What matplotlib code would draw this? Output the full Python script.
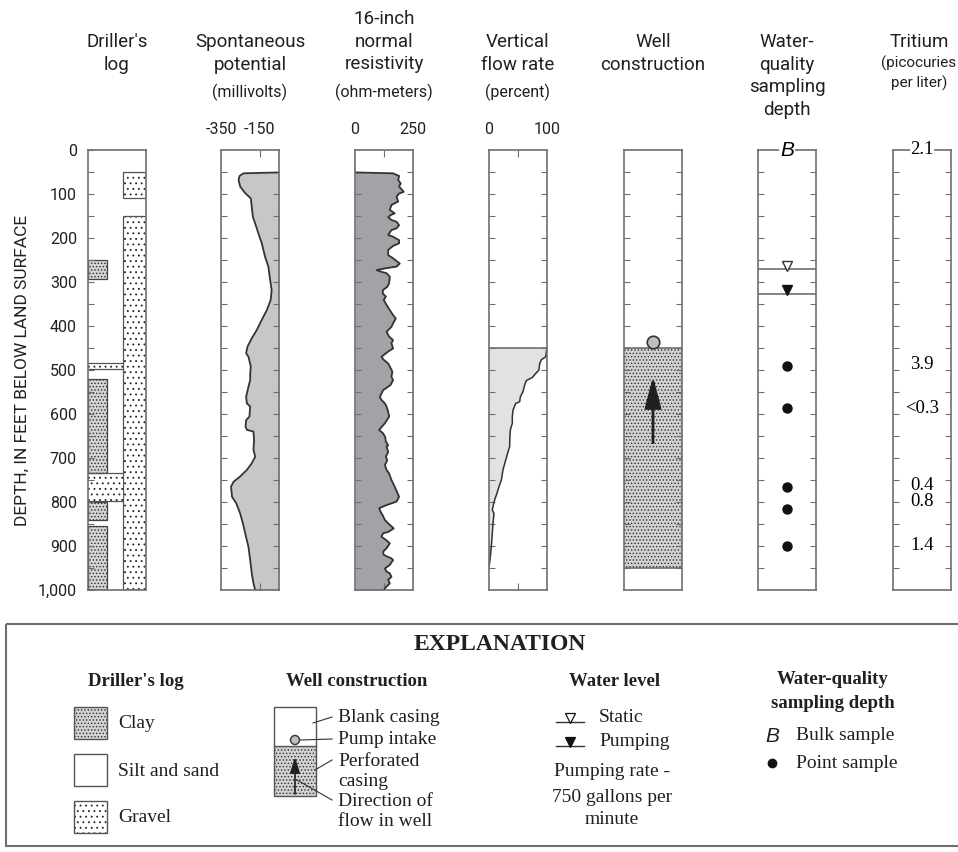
import numpy as np
import matplotlib
matplotlib.use('Agg')
import matplotlib.pyplot as plt
from matplotlib.patches import Rectangle, Circle
from matplotlib.ticker import FuncFormatter

# ---- data (depth in feet below land surface) ----
# driller's log intervals
gravel_side = [(50, 110), (150, 1000)]
gravel_full = [(483, 498), (735, 798)]
clay = [(250, 293), (521, 735), (800, 842), (855, 1000)]

# spontaneous potential, millivolts
sp_depth = [51, 53, 59, 68, 83, 98, 110, 129, 152, 174, 197, 212, 243, 265, 295, 318, 341,
            364, 386, 409, 428, 447, 462, 470, 492, 508, 523, 538, 561, 576, 583, 606, 614,
            629, 636, 640, 659, 682, 697, 712, 727, 742, 754, 765, 788, 803, 826, 848, 871,
            902, 932, 962, 985, 1000]
sp_mv = [-50, -233, -254, -259, -251, -225, -196, -191, -185, -168, -151, -139, -122, -105,
         -96, -88, -93, -113, -139, -165, -191, -213, -220, -208, -196, -199, -199, -208,
         -220, -216, -199, -203, -220, -223, -216, -182, -179, -182, -173, -191, -216, -251,
         -285, -298, -293, -271, -251, -237, -225, -208, -199, -191, -182, -173]

# 16-inch normal resistivity, ohm-meters
res_depth = [51, 53, 59, 68, 76, 83, 95, 99, 106, 117, 125, 136, 144, 148, 153, 159, 163, 171,
             178, 182, 193, 197, 205, 212, 218, 227, 239, 246, 258, 265, 269, 273, 277, 280,
             288, 303, 311, 318, 326, 333, 341, 352, 364, 375, 383, 394, 402, 413, 424, 432,
             439, 451, 458, 470, 477, 485, 492, 504, 515, 523, 534, 546, 561, 568, 576, 583,
             595, 606, 621, 636, 644, 652, 663, 671, 674, 686, 697, 705, 716, 727, 735, 750,
             765, 788, 799, 807, 814, 822, 830, 841, 852, 860, 868, 871, 879, 886, 894, 905,
             913, 920, 924, 928, 932, 943, 951, 958, 962, 970, 977, 985, 992, 1000]
res_ohm = [0, 164, 190, 186, 197, 190, 210, 190, 179, 186, 157, 150, 171, 153, 143, 157, 179,
           190, 179, 157, 143, 164, 190, 190, 164, 143, 143, 164, 193, 179, 129, 93, 114, 136,
           150, 147, 139, 121, 119, 133, 124, 136, 150, 164, 176, 164, 157, 136, 147, 164,
           157, 164, 143, 114, 124, 143, 150, 161, 157, 164, 153, 121, 107, 114, 129, 136,
           143, 147, 129, 104, 121, 130, 133, 143, 136, 143, 133, 139, 129, 136, 147, 157,
           171, 190, 179, 136, 104, 110, 119, 129, 150, 167, 143, 121, 114, 133, 150, 136,
           121, 124, 139, 157, 164, 150, 129, 136, 150, 157, 143, 150, 136, 124]

# vertical flow rate, percent
flow_depth = [450, 458, 470, 477, 486, 500, 508, 517, 524, 534, 549, 561, 572, 576, 591, 606,
              621, 636, 652, 674, 686, 705, 727, 750, 765, 780, 795, 810, 818, 826, 848, 871,
              901, 924, 948]
flow_pct = [100, 99, 97.7, 90, 87.4, 86, 80.5, 74.7, 64.4, 61.5, 58.6, 54, 52.9, 46, 41.4,
            40.2, 40.2, 36.8, 36, 35.6, 32.8, 28.7, 24.1, 21.3, 17.2, 13.8, 9.8, 6.9, 5.7,
            8.6, 6.9, 5.7, 4, 2.3, 0]

# well construction
blank_casing = (0, 450)
perforated = (450, 950)
pump_intake = 436
flow_arrow = (665, 515)

# water levels and sampling
static_level = 271
pumping_level = 327
bulk_depth = 0
point_depths = [490, 587, 765, 815, 900]

# tritium, picocuries per liter
tritium_depths = [0, 488, 588, 763, 798, 900]
tritium_labels = ['2.1', '3.9', '<0.3', '0.4', '0.8', '1.4']

# ---- styling ----
W, H = 958, 852
NARROW = ['Roboto', 'DejaVu Sans']
SERIF = ['Liberation Serif', 'DejaVu Serif']
GRAY = '#6d6e71'
DARK = '#333333'
plt.rcParams['hatch.linewidth'] = 0.6

fig = plt.figure(figsize=(W / 100, H / 100), dpi=100)

# overlay axes in pixel coordinates for headers and explanation
lay = fig.add_axes([0, 0, 1, 1], zorder=-1)
lay.set_xlim(0, W)
lay.set_ylim(H, 0)
lay.axis('off')

col_left = [88, 221, 355, 489, 624, 758, 893]
col_w = 58
top, bot = 150, 590


def column(i, xlim):
    ax = fig.add_axes([col_left[i] / W, 1 - bot / H, col_w / W, (bot - top) / H])
    ax.set_xlim(xlim)
    ax.set_ylim(1000, 0)
    for s in ax.spines.values():
        s.set_color(GRAY)
        s.set_linewidth(1.2)
    ax.set_yticks(np.arange(50, 1000, 50))
    ax.tick_params(axis='y', direction='in', length=4, left=True, right=True,
                   labelleft=False, color=GRAY, width=0.8)
    ax.set_xticks([])
    return ax


def top_scale(ax, labels_at, labels, mid):
    ax.xaxis.remove_overlapping_locs = False
    ax.set_xticks(labels_at)
    ax.set_xticklabels(labels, family=NARROW, fontsize=11.5, color='#231f20')
    ax.tick_params(axis='x', which='major', top=True, labeltop=True, bottom=False,
                   labelbottom=False, length=0, pad=9)
    ax.set_xticks([mid], minor=True)
    ax.tick_params(axis='x', which='minor', direction='in', top=True, bottom=True,
                   length=5, color=GRAY, width=0.8)


clay_style = dict(facecolor='#d2d2d2', edgecolor='#2e2e2e', hatch='.....', linewidth=0)
gravel_style = dict(facecolor='white', edgecolor='#222222', hatch='...', linewidth=0)

# ---- driller's log ----
ax = column(0, (0, 1))
ax.set_yticks(np.arange(0, 1001, 100))
ax.set_yticks(np.arange(50, 1000, 100), minor=True)
ax.tick_params(axis='y', which='both', direction='in', length=4, left=True, right=False,
               color=GRAY, width=0.8)
ax.tick_params(axis='y', which='major', labelleft=True, pad=8, labelsize=11.5,
               labelcolor='#231f20')
ax.yaxis.set_major_formatter(FuncFormatter(lambda v, p: f'{int(v):,}'))
for lab in ax.get_yticklabels():
    lab.set_family(NARROW)
for t0, t1 in gravel_side:
    ax.add_patch(Rectangle((0.6, t0), 0.4, t1 - t0, **gravel_style))
    ax.add_patch(Rectangle((0.6, t0), 0.4, t1 - t0, fill=False, edgecolor='#555555', lw=0.9))
for t0, t1 in gravel_full:
    ax.add_patch(Rectangle((0, t0), 0.61, t1 - t0, **gravel_style))
    ax.hlines([t0, t1], 0, 0.6, color='#555555', lw=0.9)
for t0, t1 in clay:
    ax.add_patch(Rectangle((0, t0), 0.33, t1 - t0, **clay_style))
    ax.add_patch(Rectangle((0, t0), 0.33, t1 - t0, fill=False, edgecolor='#444444', lw=0.9))
ax.set_ylabel('DEPTH, IN FEET BELOW LAND SURFACE', family=NARROW, fontsize=12.5,
              labelpad=6, color='#231f20')

# ---- spontaneous potential ----
ax = column(1, (-350, -50))
top_scale(ax, [-350, -150], ['-350', '-150'], -150)
ax.fill_betweenx(sp_depth, sp_mv, -50, color='#c6c7c9', lw=0)
ax.plot(sp_mv, sp_depth, color=DARK, lw=1.3)

# ---- resistivity ----
ax = column(2, (0, 250))
top_scale(ax, [0, 250], ['0', '250'], 125)
ax.fill_betweenx(res_depth, 0, res_ohm, color='#a2a3a6', lw=0)
ax.plot(res_ohm, res_depth, color=DARK, lw=1.3)

# ---- vertical flow rate ----
ax = column(3, (0, 100))
top_scale(ax, [0, 100], ['0', '100'], 50)
ax.fill_betweenx(flow_depth, 0, flow_pct, color='#e1e2e4', lw=0)
ax.plot(flow_pct, flow_depth, color=DARK, lw=1.1)
ax.axhline(flow_depth[0], color=GRAY, lw=1.2)

# ---- well construction ----
ax = column(4, (0, 1))
ax.add_patch(Rectangle((0, perforated[0]), 1, perforated[1] - perforated[0], **clay_style))
ax.axhline(perforated[0], color=GRAY, lw=1.2)
ax.axhline(perforated[1], color=GRAY, lw=1.2)
ax.plot([0.5], [pump_intake], 'o', ms=9, mfc='#bcbec0', mec=DARK, mew=1.2, clip_on=False,
        zorder=5)
ax.annotate('', xy=(0.5, flow_arrow[1]), xytext=(0.5, flow_arrow[0]),
            arrowprops=dict(arrowstyle='-|>,head_length=0.95,head_width=0.25',
                            mutation_scale=20, lw=2, color='#231f20', shrinkA=0, shrinkB=0))

# ---- water-quality sampling depth ----
ax = column(5, (0, 1))
ax.axhline(static_level, color=GRAY, lw=1.2)
ax.axhline(pumping_level, color=GRAY, lw=1.2)
ax.plot([0.5], [static_level - 8], 'v', ms=7, mfc='white', mec=DARK, mew=1)
ax.plot([0.5], [pumping_level - 8], 'v', ms=7, color='#111111')
ax.plot([0.5] * len(point_depths), point_depths, 'o', ms=6.5, color='#111111', ls='none')
ax.text(0.5, bulk_depth + 2, 'B', ha='center', va='center', fontsize=15, style='italic',
        family=['Liberation Sans', 'DejaVu Sans'],
        bbox=dict(facecolor='white', edgecolor='none', pad=0.5), clip_on=False)

# ---- tritium ----
ax = column(6, (0, 1))
for d, lab in zip(tritium_depths, tritium_labels):
    kw = dict(bbox=dict(facecolor='white', edgecolor='none', pad=0.3)) if d == 0 else {}
    ax.text(0.5, d, lab, ha='center', va='center', fontsize=13.5, family=SERIF,
            clip_on=False, **kw)

# ---- column headers ----
headers = [
    (["Driller's", "log"], [], 42, []),
    (["Spontaneous", "potential"], ["(millivolts)"], 42, [92]),
    (["16-inch", "normal", "resistivity"], ["(ohm-meters)"], 19, [92]),
    (["Vertical", "flow rate"], ["(percent)"], 42, [92]),
    (["Well", "construction"], [], 42, []),
    (["Water-", "quality", "sampling", "depth"], [], 42, []),
    (["Tritium"], ["(picocuries", "per liter)"], 42, [63, 83]),
]
for i, (main, sub, y0, ysub) in enumerate(headers):
    cx = col_left[i] + col_w / 2
    if i == 6:
        cx -= 3
    for k, line in enumerate(main):
        lay.text(cx, y0 + k * 22.7, line, ha='center', va='center', fontsize=13.5,
                 family=NARROW, color='#231f20')
    for line, y in zip(sub, ysub):
        lay.text(cx, y, line, ha='center', va='center', fontsize=11.5 if i < 6 else 11,
                 family=NARROW, color='#231f20')

# ---- explanation ----
lay.add_patch(Rectangle((6, 624), 980, 222, fill=False, edgecolor=GRAY, lw=1.5,
                        clip_on=False))
lay.text(500, 645, 'EXPLANATION', ha='center', va='center', fontsize=17, weight='bold',
         family=SERIF, color='#231f20')
sty = dict(va='center', fontsize=14, family=SERIF, color='#231f20')
hsty = dict(ha='center', va='center', fontsize=13.5, family=SERIF, weight='bold',
            color='#231f20')
lay.text(136, 682, "Driller's log", **hsty)
lay.text(357, 682, 'Well construction', **hsty)
lay.text(615, 681, 'Water level', **hsty)
lay.text(833, 680, 'Water-quality', **hsty)
lay.text(833, 703, 'sampling depth', **hsty)

# driller's log swatches
for y, name, st in [(707, 'Clay', clay_style), (754, 'Silt and sand', None),
                    (801, 'Gravel', gravel_style)]:
    if st is not None:
        lay.add_patch(Rectangle((74, y), 33, 32, **st))
    lay.add_patch(Rectangle((74, y), 33, 32, fill=False, edgecolor='#555555', lw=1))
    lay.text(118, y + 17, name, ha='left', **sty)

# well construction icon
lay.add_patch(Rectangle((274, 746), 42, 50, **clay_style))
lay.add_patch(Rectangle((274, 707), 42, 89, fill=False, edgecolor='#555555', lw=1))
lay.plot([274, 316], [746, 746], color='#555555', lw=1)
lay.annotate('', xy=(295, 757), xytext=(295, 794),
             arrowprops=dict(arrowstyle='-|>,head_length=0.8,head_width=0.25',
                             mutation_scale=12, lw=1.2, color='#231f20', shrinkA=0,
                             shrinkB=0))
lay.add_patch(Circle((295, 740), 4.5, facecolor='#bcbec0', edgecolor='#333333', lw=1,
                     zorder=4))
for x0, y0, y1 in [(313, 723, 717), (300, 740, 739), (315, 770, 760), (297, 780, 800)]:
    lay.plot([x0, 332], [y0, y1], color='#333333', lw=0.8)
for y, t in [(717, 'Blank casing'), (739, 'Pump intake'), (762, 'Perforated'),
             (782, 'casing'), (802, 'Direction of'), (822, 'flow in well')]:
    lay.text(338, y, t, ha='left', **sty)

# water level symbols
for y, filled, name in [(722, False, 'Static'), (746, True, 'Pumping')]:
    lay.plot([556, 584], [y, y], color='#333333', lw=1)
    lay.plot([570], [y - 4.5], 'v', ms=6.5, mfc='#111111' if filled else 'white',
             mec='#111111', mew=0.9)
    lay.text(599, y - 4, name, ha='left', **sty)
for y, t in [(772, 'Pumping rate -'), (797, '750 gallons per'), (819, 'minute')]:
    lay.text(612, y, t, ha='center', **sty)

# sampling symbols
lay.text(772, 736, 'B', ha='center', va='center', fontsize=15, style='italic',
         family=['Liberation Sans', 'DejaVu Sans'], color='#231f20')
lay.text(796, 735, 'Bulk sample', ha='left', **sty)
lay.plot([772], [763], 'o', ms=6, color='#111111')
lay.text(796, 763, 'Point sample', ha='left', **sty)

fig.savefig('out.png', dpi=100)
